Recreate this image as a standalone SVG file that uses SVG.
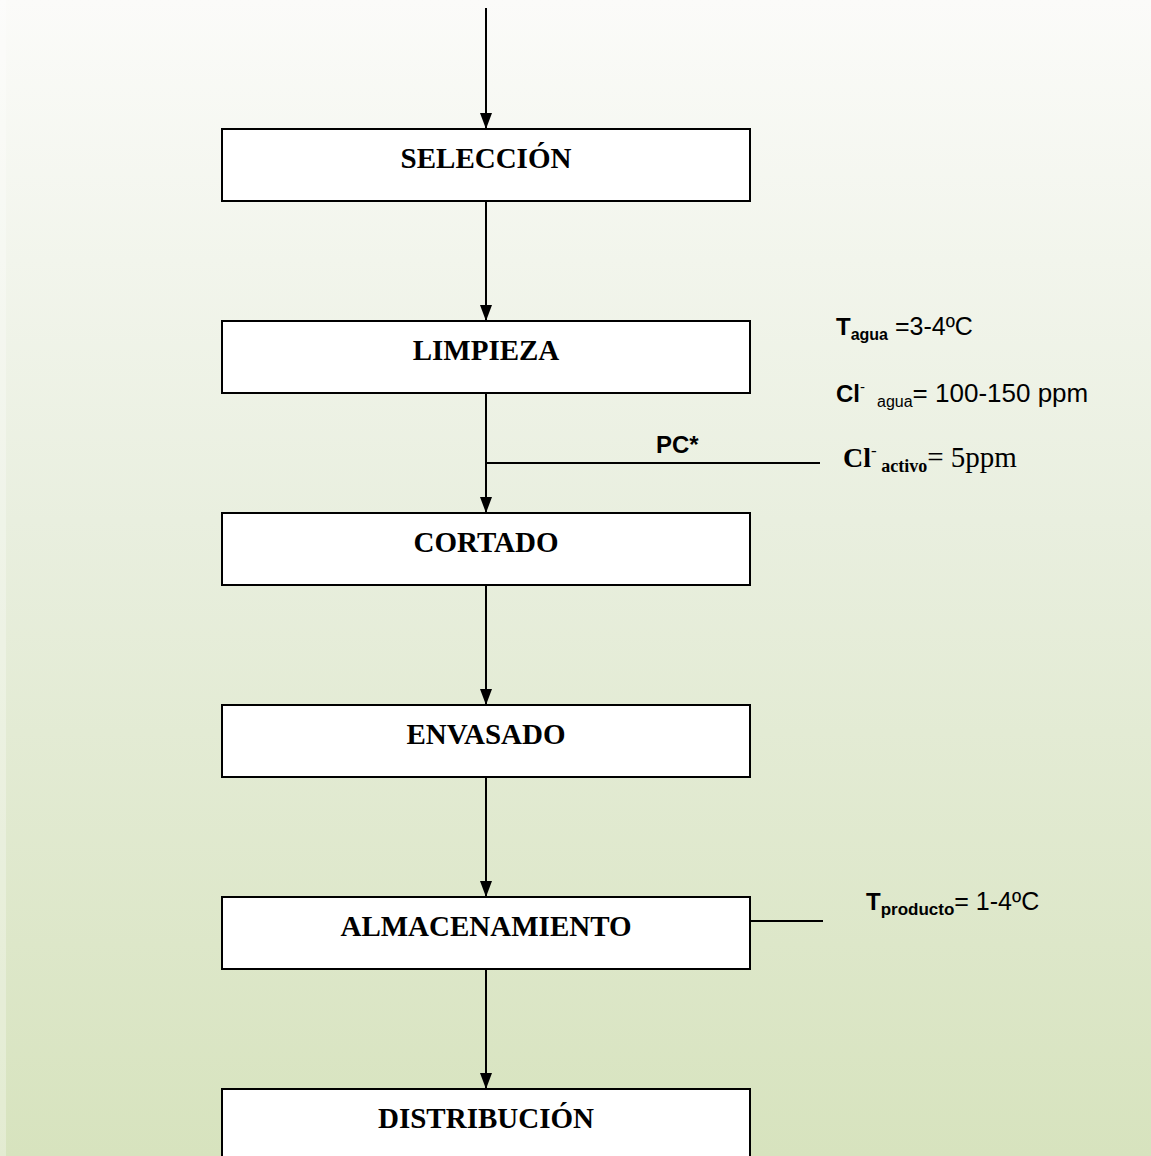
<svg xmlns="http://www.w3.org/2000/svg" width="1151" height="1156" viewBox="0 0 1151 1156">
<defs>
<linearGradient id="bg" x1="0" y1="0" x2="0" y2="1">
<stop offset="0" stop-color="#fbfbf9"/>
<stop offset="0.45" stop-color="#e9efdf"/>
<stop offset="1" stop-color="#d7e3be"/>
</linearGradient>
<marker id="arr" viewBox="0 0 16 12" markerWidth="16" markerHeight="12" refX="16" refY="6" orient="auto" markerUnits="userSpaceOnUse">
<path d="M0,0 L16,6 L0,12 Z" fill="#000"/>
</marker>
</defs>
<style>
.box{fill:#fff;stroke:#000;stroke-width:2}
.lbl{font-family:"Liberation Serif","Times New Roman",serif;font-weight:bold;font-size:29px;text-anchor:middle;fill:#000}
.ln{stroke:#000;stroke-width:2;fill:none}
.cal{font-family:"Liberation Sans",Arial,sans-serif;font-size:24px;fill:#000}
.tms{font-family:"Liberation Serif","Times New Roman",serif;font-size:28px;fill:#000}
</style>
<rect x="0" y="0" width="1151" height="1156" fill="url(#bg)"/>
<rect x="0" y="0" width="6" height="1156" fill="#fff" opacity="0.3"/>

<g id="connectors">
<line class="ln" x1="486" y1="8" x2="486" y2="129" marker-end="url(#arr)"/>
<line class="ln" x1="486" y1="201" x2="486" y2="321" marker-end="url(#arr)"/>
<line class="ln" x1="486" y1="393" x2="486" y2="513" marker-end="url(#arr)"/>
<line class="ln" x1="486" y1="585" x2="486" y2="705" marker-end="url(#arr)"/>
<line class="ln" x1="486" y1="777" x2="486" y2="897" marker-end="url(#arr)"/>
<line class="ln" x1="486" y1="969" x2="486" y2="1089" marker-end="url(#arr)"/>
<line class="ln" x1="486" y1="463" x2="820" y2="463"/>
<line class="ln" x1="750" y1="921" x2="823" y2="921"/>
</g>

<g id="seleccion">
<rect class="box" x="222" y="129" width="528" height="72"/>
<text class="lbl" x="486" y="168">SELECCIÓN</text>
</g>
<g id="limpieza">
<rect class="box" x="222" y="321" width="528" height="72"/>
<text class="lbl" x="486" y="360">LIMPIEZA</text>
</g>
<g id="cortado">
<rect class="box" x="222" y="513" width="528" height="72"/>
<text class="lbl" x="486" y="552">CORTADO</text>
</g>
<g id="envasado">
<rect class="box" x="222" y="705" width="528" height="72"/>
<text class="lbl" x="486" y="744">ENVASADO</text>
</g>
<g id="almacenamiento">
<rect class="box" x="222" y="897" width="528" height="72"/>
<text class="lbl" x="486" y="936">ALMACENAMIENTO</text>
</g>
<g id="distribucion">
<rect class="box" x="222" y="1089" width="528" height="80"/>
<text class="lbl" x="486" y="1128">DISTRIBUCIÓN</text>
</g>

<g id="annotations">
<text class="cal" x="656" y="453" font-weight="bold">PC*</text>
<text class="cal" x="836" y="335"><tspan font-weight="bold">T</tspan><tspan font-weight="bold" font-size="16" dy="5">agua</tspan><tspan dy="-5" font-size="25"> =3-4ºC</tspan></text>
<text class="cal" x="836" y="402"><tspan font-weight="bold">Cl</tspan><tspan font-size="15" dy="-10">-</tspan><tspan font-size="16" dy="15" x="877">agua</tspan><tspan dy="-5" font-size="26">= 100-150 ppm</tspan></text>
<text class="tms" x="843" y="467"><tspan font-weight="bold">Cl</tspan><tspan font-size="17" dy="-11">-</tspan><tspan font-size="18" font-weight="bold" dy="16"> activo</tspan><tspan dy="-5" font-size="29">= 5ppm</tspan></text>
<text class="cal" x="866" y="910"><tspan font-weight="bold">T</tspan><tspan font-weight="bold" font-size="17" dy="5">producto</tspan><tspan dy="-5" font-size="25">= 1-4ºC</tspan></text>
</g>
</svg>
